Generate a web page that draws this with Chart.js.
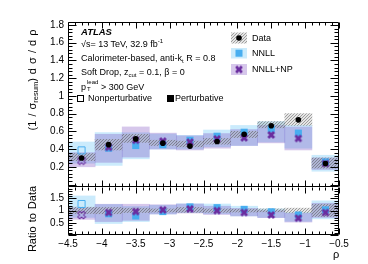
<!DOCTYPE html>
<html lang="en">
<head>
<meta charset="UTF-8">
<title>Soft drop rho</title>
<script src="https://cdn.jsdelivr.net/npm/chart.js"></script>
<style>
  body { margin:0; width:368px; height:264px; position:relative; background:#fff; overflow:hidden;
         font-family:"Liberation Sans", Arial, sans-serif; color:#000; }
  canvas { position:absolute; left:0; }
  #ratio { top:175px; }
  #top { top:0; }
  #syms { top:0; pointer-events:none; }
  .t { position:absolute; font-size:9px; line-height:9px; white-space:nowrap; }
  .t sup { font-size:6px; line-height:0; vertical-align:4px; }
  .t sub { font-size:6px; line-height:0; vertical-align:-2px; }
  .ss { display:inline-block; position:relative; width:15px; height:9px; }
  .ss span { position:absolute; left:1px; font-size:6px; line-height:6px; }
  .ytitle { position:absolute; font-size:11px; line-height:11px; white-space:nowrap; word-spacing:1px;
            transform:translate(-50%,-50%) rotate(-90deg); }
  .ytitle sub { font-size:7.5px; line-height:0; vertical-align:-2px; }
</style>
</head>
<body>
<canvas id="ratio" width="368" height="89"></canvas>
<canvas id="top" width="368" height="200"></canvas>
<canvas id="syms" width="368" height="264"></canvas>

<div class="t" style="left:81px;top:27px;font-weight:bold;font-style:italic;font-size:9.5px">ATLAS</div>
<div class="t" style="left:81px;top:40px">√s= 13 TeV, 32.9 fb<sup>-1</sup></div>
<div class="t" style="left:81px;top:54px">Calorimeter-based, anti-k<sub>t</sub> R = 0.8</div>
<div class="t" style="left:81px;top:67.5px">Soft Drop, z<sub>cut</sub> = 0.1, β = 0</div>
<div class="t" style="left:81px;top:80.5px">p<span class="ss"><span style="top:-2px">lead</span><span style="top:5px">T</span></span>&gt; 300 GeV</div>
<div class="t" style="left:88px;top:93.5px">Nonperturbative</div>
<div class="t" style="left:175px;top:93.5px">Perturbative</div>
<div class="t" style="left:252px;top:33.5px">Data</div>
<div class="t" style="left:252px;top:49px">NNLL</div>
<div class="t" style="left:252px;top:65px">NNLL+NP</div>

<div class="ytitle" style="left:31.5px;top:80px">(1 / σ<sub>resum</sub>) d σ / d ρ</div>
<div class="ytitle" style="left:31.5px;top:219px">Ratio to Data</div>
<div class="t" style="left:333px;top:250px;font-size:11px">ρ</div>

<script>
// bin centres (bins are 0.4 wide, from -4.5 to -0.5)
const rhoCenters = [-4.3, -3.9, -3.5, -3.1, -2.7, -2.3, -1.9, -1.5, -1.1, -0.7];

// top panel: (1/sigma) dsigma/drho
const dataVal = [0.30, 0.45, 0.515, 0.467, 0.433, 0.486, 0.567, 0.663, 0.73, 0.237];
const dataLo  = [0.27, 0.39, 0.475, 0.44, 0.425, 0.455, 0.53, 0.64, 0.667, 0.185];
const dataHi  = [0.35, 0.51, 0.567, 0.50, 0.49, 0.52, 0.60, 0.71, 0.80, 0.30];
const nnllVal = [0.385, 0.41, 0.44, 0.45, 0.50, 0.545, 0.59, 0.627, 0.58, 0.255];
const nnllLo  = [0.24, 0.215, 0.29, 0.40, 0.40, 0.425, 0.44, 0.48, 0.41, 0.15];
const nnllHi  = [0.48, 0.585, 0.585, 0.57, 0.555, 0.615, 0.667, 0.71, 0.667, 0.33];
const npVal   = [0.27, 0.42, 0.50, 0.49, 0.478, 0.515, 0.527, 0.56, 0.52, 0.237];
const npLo    = [0.20, 0.25, 0.31, 0.40, 0.39, 0.41, 0.44, 0.47, 0.39, 0.17];
const npHi    = [0.36, 0.567, 0.65, 0.58, 0.55, 0.575, 0.62, 0.667, 0.65, 0.30];

// ratio panel
const rDataLo  = [0.88, 0.87, 0.92, 0.94, 0.93, 0.93, 0.94, 0.95, 0.91, 0.76];
const rDataHi  = [1.14, 1.13, 1.10, 1.07, 1.13, 1.07, 1.06, 1.07, 1.10, 1.26];
const rNnllVal = [1.27, 0.87, 0.78, 0.96, 1.15, 1.12, 1.05, 0.95, 0.82, 1.03];
const rNnllLo  = [0.72, 0.47, 0.55, 0.86, 0.92, 0.87, 0.78, 0.72, 0.56, 0.66];
const rNnllHi  = [1.6, 1.25, 1.17, 1.22, 1.28, 1.27, 1.18, 1.07, 0.92, 1.4];
const rNpVal   = [0.82, 0.92, 0.96, 1.03, 1.07, 1.0, 0.92, 0.82, 0.69, 0.92];
const rNpLo    = [0.64, 0.55, 0.6, 0.86, 0.9, 0.84, 0.78, 0.71, 0.53, 0.72];
const rNpHi    = [1.12, 1.26, 1.26, 1.24, 1.27, 1.18, 1.09, 1.0, 0.89, 1.3];

// axis ticks
const xTicks = [-4.5, -4, -3.5, -3, -2.5, -2, -1.5, -1, -0.5];
const topYTicks = [0.2, 0.4, 0.6, 0.8, 1, 1.2, 1.4, 1.6, 1.8];
const ratioYTicks = [0.5, 1, 1.5];

const nnllBand = 'rgba(175,225,250,0.65)';
const npBand = 'rgba(120,70,190,0.3)';
const nnllColor = '#48aef0';
const npColor = '#6a2d9f';

function hatchPattern() {
  const c = document.createElement('canvas');
  c.width = c.height = 3;
  const g = c.getContext('2d');
  g.fillStyle = 'rgba(170,170,170,0.3)';
  g.fillRect(0, 0, 3, 3);
  g.strokeStyle = 'rgba(70,70,70,0.45)';
  g.lineWidth = 1;
  g.beginPath(); g.moveTo(0, 3); g.lineTo(3, 0); g.stroke();
  return g.createPattern(c, 'repeat');
}
const hatch = hatchPattern();

function xMarker(color, filled) {
  const s = 10, c = document.createElement('canvas');
  c.width = c.height = s;
  const g = c.getContext('2d');
  const L = 4.1, h = 1.4;
  const p = [[h,L],[h,h],[L,h],[L,-h],[h,-h],[h,-L],[-h,-L],[-h,-h],[-L,-h],[-L,h],[-h,h],[-h,L]];
  g.translate(s / 2, s / 2);
  g.rotate(Math.PI / 4);
  g.beginPath();
  p.forEach(([a, b], i) => i ? g.lineTo(a, b) : g.moveTo(a, b));
  g.closePath();
  if (filled) { g.fillStyle = color; g.fill(); }
  else { g.strokeStyle = color; g.lineWidth = 1; g.stroke(); }
  return c;
}
const fullX = xMarker(npColor, true);
const openX = xMarker(npColor, false);

// ROOT-like frame with inward ticks on all sides
function drawFrame(chart, o) {
  const ctx = chart.ctx, a = chart.chartArea;
  const xs = chart.scales.x, ys = chart.scales.y;
  const L = Math.round(a.left) + 0.5, R = Math.round(a.right) - 0.5;
  const T = Math.round(a.top) + 0.5, B = Math.round(a.bottom) - 0.5;
  const seg = (x1, y1, x2, y2) => { ctx.moveTo(x1, y1); ctx.lineTo(x2, y2); };
  ctx.save();
  ctx.strokeStyle = '#000';
  ctx.lineWidth = 1;
  ctx.beginPath();
  seg(L, T, L, B); seg(R, T, R, B); seg(L, B, R, B);
  if (o.topLine) seg(L, T, R, T);
  const nx = Math.round((xs.max - xs.min) / o.xMinor);
  for (let i = 0; i <= nx; i++) {
    const v = xs.min + i * o.xMinor;
    const px = Math.round(xs.getPixelForValue(v)) + 0.5;
    const major = Math.abs(v / o.xMajor - Math.round(v / o.xMajor)) < 1e-6;
    const len = major ? o.xLen : o.xLen / 2;
    seg(px, B, px, B - len);
    seg(px, T, px, T + len);
  }
  const k0 = Math.ceil(ys.min / o.yMinor - 1e-6), k1 = Math.floor(ys.max / o.yMinor + 1e-6);
  for (let k = k0; k <= k1; k++) {
    const v = k * o.yMinor;
    const py = Math.round(ys.getPixelForValue(v)) + 0.5;
    const major = Math.abs(v / o.yMajor - Math.round(v / o.yMajor)) < 1e-6;
    const len = major ? o.yLen : o.yLen / 2;
    seg(L, py, L + len, py);
    seg(R, py, R - len, py);
  }
  ctx.stroke();
  ctx.restore();
}

const band = (lo, hi) => rhoCenters.map((c, i) => ({x: c, y: [lo[i], hi[i]]}));
const pts = vals => rhoCenters.map((c, i) => ({x: c, y: vals[i]}));
const fmt = v => String(+(+v).toFixed(2)).replace('-', '\u2212');

function makeDatasets(d) {
  const barOpts = {type: 'bar', barPercentage: 1, categoryPercentage: 1, grouped: false, borderWidth: 0};
  return [
    {...barOpts, data: band(d.nnllLo, d.nnllHi), backgroundColor: nnllBand, order: 6},
    {...barOpts, data: band(d.npLo, d.npHi), backgroundColor: npBand, order: 5},
    {...barOpts, data: band(d.dataLo, d.dataHi), backgroundColor: hatch, order: 4},
    {type: 'scatter', data: pts(d.nnll), order: 3, pointStyle: 'rect', pointRadius: 5,
     pointBackgroundColor: c => c.dataIndex === 0 ? 'rgba(0,0,0,0)' : nnllColor,
     pointBorderColor: nnllColor, pointBorderWidth: c => c.dataIndex === 0 ? 1 : 0},
    {type: 'scatter', data: pts(d.np), order: 2, pointRadius: 5,
     pointStyle: c => c.dataIndex === 0 ? openX : fullX},
    ...(d.data ? [{type: 'scatter', data: pts(d.data), order: 1, pointStyle: 'circle',
       pointRadius: 2.8, pointBackgroundColor: '#000', pointBorderWidth: 0}] : [])
  ];
}

// want = chart area wanted, in canvas pixels
function makeChart(id, d, yMin, yMax, yTicks, showX, want, frameOpts) {
  const canvas = document.getElementById(id);
  const pad = {top: want.top, bottom: canvas.height - want.bottom - (showX ? 29 : 0), left: 0, right: 29};
  const chart = new Chart(canvas, {
    type: 'scatter',
    data: {datasets: makeDatasets(d)},
    options: {
      responsive: false,
      animation: false,
      events: [],
      layout: {padding: pad},
      plugins: {legend: {display: false}, tooltip: {enabled: false}},
      scales: {
        x: {
          type: 'linear', min: -4.5, max: -0.5, offset: false, display: showX,
          grid: {display: false, drawTicks: false}, border: {display: false},
          afterBuildTicks: s => { s.ticks = xTicks.map(v => ({value: v})); },
          afterFit: s => { if (showX) s.height = 29; },
          ticks: {callback: fmt, color: '#000', padding: 3, maxRotation: 0, autoSkip: false,
                  font: {family: 'Liberation Sans', size: 10}}
        },
        y: {
          type: 'linear', min: yMin, max: yMax,
          grid: {display: false, drawTicks: false}, border: {display: false},
          afterBuildTicks: s => { s.ticks = yTicks.map(v => ({value: v})); },
          afterFit: s => { s.width = 68; },
          ticks: {callback: fmt, color: '#000', padding: 4,
                  font: {family: 'Liberation Sans', size: 10}}
        }
      }
    },
    plugins: [{id: 'rootFrame', afterDraw: c => drawFrame(c, frameOpts)}]
  });
  // nudge the padding until the plot area sits where it should
  for (let i = 0; i < 3; i++) {
    const a = chart.chartArea;
    if (Math.abs(a.top - want.top) < 0.01 && Math.abs(a.bottom - want.bottom) < 0.01) break;
    pad.top += want.top - a.top;
    pad.bottom += a.bottom - want.bottom;
    chart.update();
  }
  return chart;
}

makeChart('top',
  {nnllLo, nnllHi, npLo, npHi, dataLo, dataHi, nnll: nnllVal, np: npVal, data: dataVal},
  -0.028, 1.834, topYTicks, false, {top: 22, bottom: 187},
  {topLine: true, xMinor: 0.1, xMajor: 0.5, xLen: 6, yMinor: 0.04, yMajor: 0.2, yLen: 8});

makeChart('ratio',
  {nnllLo: rNnllLo, nnllHi: rNnllHi, npLo: rNpLo, npHi: rNpHi, dataLo: rDataLo, dataHi: rDataHi,
   nnll: rNnllVal, np: rNpVal},
  0, 1.967, ratioYTicks, true, {top: 12, bottom: 60},
  {topLine: false, xMinor: 0.1, xMajor: 0.5, xLen: 6, yMinor: 0.1, yMajor: 0.5, yLen: 8});

// legend symbols
const g = document.getElementById('syms').getContext('2d');
g.fillStyle = hatch; g.fillRect(231, 32.5, 16, 11);
g.fillStyle = '#000'; g.beginPath(); g.arc(239, 38, 2.8, 0, Math.PI * 2); g.fill();
g.fillStyle = nnllBand; g.fillRect(231, 48, 16, 10.5);
g.fillStyle = nnllColor; g.fillRect(235.5, 49.7, 7, 7);
g.fillStyle = npBand; g.fillRect(231, 64, 16, 11);
g.drawImage(fullX, 234, 64.5);
g.strokeStyle = '#000'; g.lineWidth = 1; g.strokeRect(77.5, 95.5, 6, 6);
g.fillStyle = '#000'; g.fillRect(167, 95, 7, 7);
</script>
</body>
</html>
